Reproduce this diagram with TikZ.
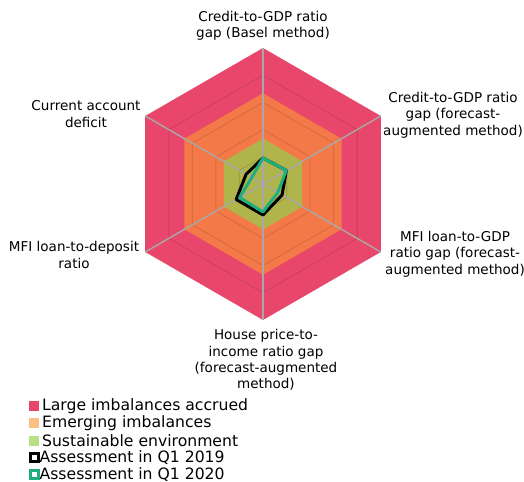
\documentclass[tikz,border=0pt]{standalone}
\usepackage{fontspec}
\setmainfont{DejaVu Sans}
\usepackage{tikz}
\usetikzlibrary{positioning}
\definecolor{large}{HTML}{E8476B}
\definecolor{emerg}{HTML}{F37A48}
\definecolor{sustain}{HTML}{AFB44B}
\definecolor{emergkey}{HTML}{FBBF85}
\definecolor{sustainkey}{HTML}{B7DF86}
\definecolor{axisgrey}{HTML}{A8A8A8}
\definecolor{qtwenty}{HTML}{1DAF80}
\newcommand{\hexa}[1]{(90:#1) -- (30:#1) -- (-30:#1) -- (-90:#1) -- (-150:#1) -- (150:#1) -- cycle}
\tikzset{
  axlabel/.style={align=center, inner sep=0pt, font=\fontsize{7.7}{9.3}\selectfont},
  legtext/.style={anchor=west, inner sep=0pt, font=\fontsize{8.9}{10}\selectfont},
  keybox/.style={minimum size=0.2cm, inner sep=0pt, outer sep=0pt},
  ringbox/.style={minimum size=0.16cm, inner sep=0pt, outer sep=0pt, line width=1.7pt, fill=white},
  gridline/.style={draw=black, draw opacity=0.1, line width=0.6pt},
  assess/.style={line width=1.7pt, line join=round}
}

\begin{document}
\begin{tikzpicture}[x=0.02cm,y=0.02cm]
		\useasboundingbox (0,0) rectangle (524,482);
		%
		\begin{scope}[shift={(263,298)}]
		\fill[large] \hexa{136};
		\fill[emerg] \hexa{90.7};
		\fill[sustain] \hexa{45.3};
		\foreach \r in {27.2,54.4,81.6,108.8}
		  \path[gridline] \hexa{\r};
		%
		\coordinate (O) at (0,0);
		\foreach \a/\n in {90/v1,30/v2,-30/v3,-90/v4,-150/v5,150/v6}
		  \coordinate (\n) at (\a:136);
		\foreach \n in {v1,v2,v3,v4,v5,v6}
		  \draw[axisgrey, line width=0.8pt] (O) -- (\n);
		%
		\draw[assess, black] (90:26) -- (30:27) -- (-30:22) -- (-90:31) -- (-150:31) -- (150:19.5) -- cycle;
		\draw[assess, qtwenty] (90:26) -- (30:27) -- (-30:17) -- (-90:28) -- (-150:27) -- (150:13) -- cycle;
		\end{scope}
		%
		\node[axlabel] (basel) at (263,456) {Credit-to-GDP ratio\\gap (Basel method)};
		\node[axlabel] (fcast) at (453,367) {Credit-to-GDP ratio\\gap (forecast-\\augmented method)};
		\node[axlabel] (mfigdp) at (455,228) {MFI loan-to-GDP\\ratio gap (forecast-\\augmented method)};
		\node[axlabel] (house) at (266,122) {House price-to-\\income ratio gap\\(forecast-augmented\\method)};
		\node[axlabel] (mfidep) at (74,227) {MFI loan-to-deposit\\ratio};
		\node[axlabel] (curacc) at (86,368) {Current account\\deficit};
		%
		\node[keybox, fill=large] (s1) at (34.3,76) {};
		\node[keybox, fill=emergkey] (s2) at (34.3,59) {};
		\node[keybox, fill=sustainkey] (s3) at (34.3,41) {};
		\node[ringbox, draw=black] (s4) at (34.3,24) {};
		\node[ringbox, draw=qtwenty] (s5) at (34.3,7) {};
		\node[legtext, right=0.05cm of s1] (t1) {Large imbalances accrued};
		\node[legtext, right=0.05cm of s2] (t2) {Emerging imbalances};
		\node[legtext, right=0.05cm of s3] (t3) {Sustainable environment};
		\node[legtext, right=0.02cm of s4] (t4) {Assessment in Q1 2019};
		\node[legtext, right=0.02cm of s5] (t5) {Assessment in Q1 2020};
\end{tikzpicture}
\end{document}
